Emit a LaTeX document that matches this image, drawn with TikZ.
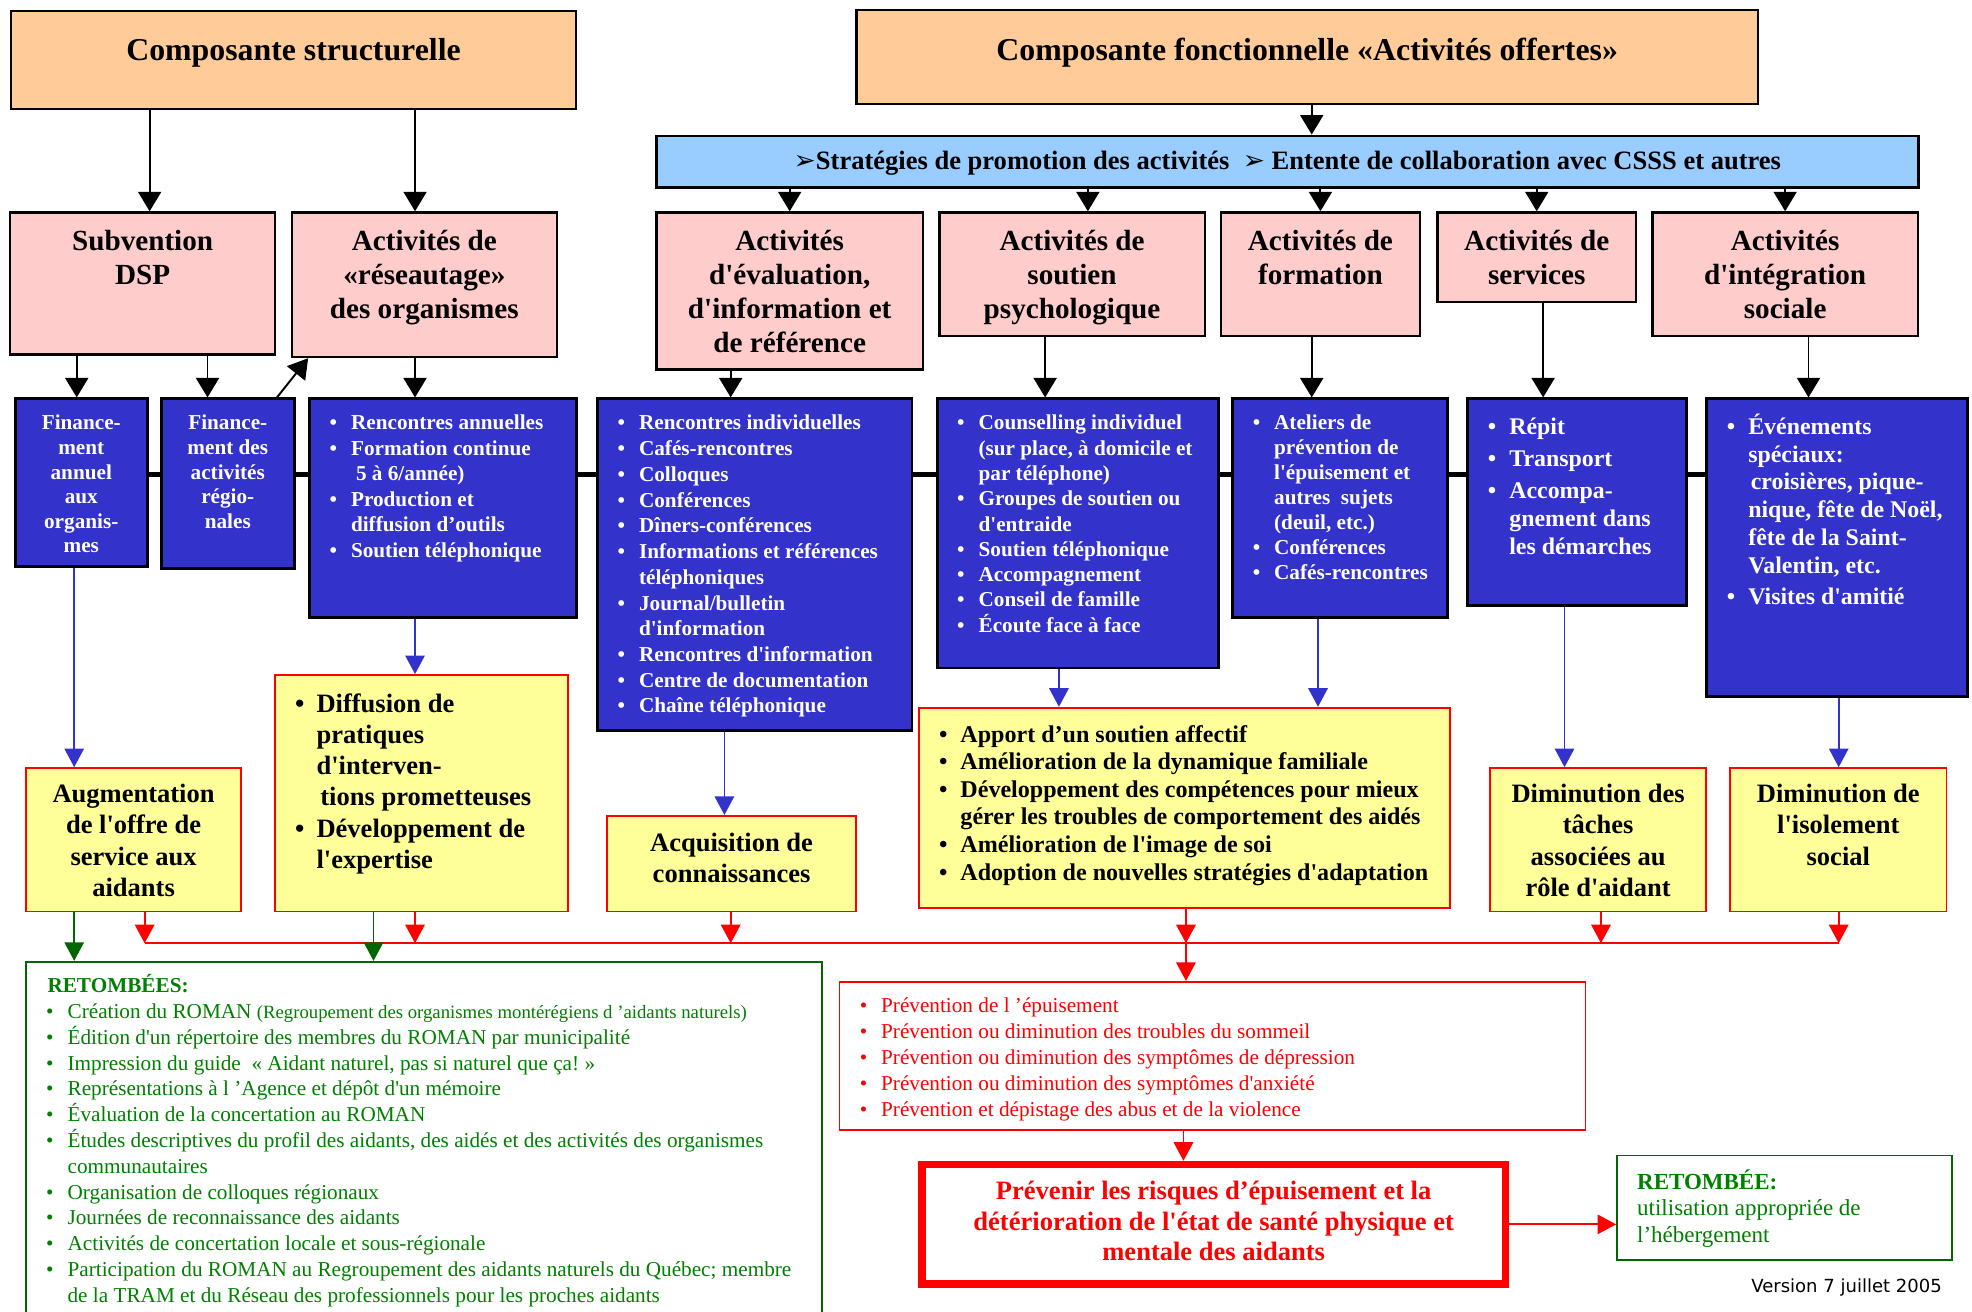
\documentclass[tikz,border=0pt]{standalone}
\usepackage{fontspec}
\setmainfont{Liberation Serif}[Ligatures=TeXOff]
\newfontfamily\dejavu{DejaVu Sans}
\usetikzlibrary{positioning,calc,arrows.meta,backgrounds}

\definecolor{orangeclair}{HTML}{FFCC99}
\definecolor{bleuciel}{HTML}{99CCFF}
\definecolor{rose}{HTML}{FFCCCC}
\definecolor{bleufonce}{HTML}{3333CC}
\definecolor{jaune}{HTML}{FFFF99}
\definecolor{rouge}{HTML}{FF0000}
\definecolor{vert}{HTML}{008000}
\definecolor{vertfonce}{HTML}{006600}

\newdimen\pxu
\pxu=0.025cm
\newcommand{\cadre}[4]{\parbox[c][#2\pxu][t]{#1\pxu}{\vspace*{#3\pxu}#4}}
\newcommand{\puce}[1]{\hangindent=33\pxu\hangafter=1\noindent\makebox[33\pxu][l]{\hspace*{16\pxu}\textbullet}#1\par}
\newcommand{\taille}[2]{\fontsize{#1}{#2}\selectfont}
\newcommand{\gauche}{\rightskip=0pt plus 1fil\relax}

\begin{document}
\begin{tikzpicture}[x=0.025cm, y=-0.025cm,
    boite/.style={draw, inner sep=0pt, anchor=north west, line width=1.3pt},
    titre/.style={boite, fill=orangeclair},
    bandeau/.style={boite, fill=bleuciel, line width=1.6pt},
    activite/.style={boite, fill=rose},
    moyen/.style={boite, fill=bleufonce, text=white, line width=1.6pt},
    effet/.style={boite, draw=rouge, fill=jaune, line width=1pt},
    fn/.style={-{Triangle[length=11pt,width=13pt]}, line width=1.1pt},
    fb/.style={-{Triangle[length=10.5pt,width=11pt]}, draw=bleufonce, line width=0.9pt},
    fr/.style={-{Triangle[length=10.5pt,width=11pt]}, draw=rouge, line width=1pt},
    fv/.style={-{Triangle[length=10.5pt,width=11pt]}, draw=vertfonce, line width=1pt},
    liaison/.style={line width=2.9pt}]
  \useasboundingbox (0,0) rectangle (1568,1043);
  \clip (0,0) rectangle (1568,1043);

  \node[titre] (struct) at (8,8) {\cadre{449}{78}{22}{\taille{18}{21}\bfseries\centering Composante structurelle\par}};
  \node[titre] (fonct) at (680,7) {\cadre{717}{75}{22}{\taille{18}{21}\bfseries\centering Composante fonctionnelle «Activités offertes»\par}};
  \node[bandeau] (strat) at (521,107) {\cadre{1003}{41}{12}{\taille{15}{18}\bfseries\centering{\dejavu ➢}Stratégies de promotion des activités\ \ {\dejavu ➢} Entente de collaboration avec CSSS et autres\par}};

  \node[activite] (subv) at (7,168) {\cadre{211}{113}{14}{\taille{16.5}{19.2}\bfseries\centering Subvention\\DSP\par}};
  \node[activite] (reseau) at (231,168) {\cadre{211}{115}{14}{\taille{16.5}{19.2}\bfseries\centering Activités de\\«réseautage»\\des organismes\par}};
  \node[activite] (eval) at (521,168) {\cadre{212}{125}{14}{\taille{16.5}{19.2}\bfseries\centering Activités\\d'évaluation,\\d'information et\\de référence\par}};
  \node[activite] (soutien) at (746,168) {\cadre{211}{98}{14}{\taille{16.5}{19.2}\bfseries\centering Activités de\\soutien\\psychologique\par}};
  \node[activite] (formation) at (970,168) {\cadre{158}{98}{14}{\taille{16.5}{19.2}\bfseries\centering Activités de\\formation\par}};
  \node[activite] (services) at (1142,168) {\cadre{158}{71}{14}{\taille{16.5}{19.2}\bfseries\centering Activités de\\services\par}};
  \node[activite] (integ) at (1313,168) {\cadre{211}{98}{14}{\taille{16.5}{19.2}\bfseries\centering Activités\\d'intégration\\sociale\par}};

  \node[moyen] (fin1) at (11,316) {\cadre{105}{133}{13}{\taille{12}{13.9}\bfseries\centering Finance-\\ment\\annuel\\aux\\organis-\\mes\par}};
  \node[moyen] (fin2) at (127,316) {\cadre{106}{135}{13}{\taille{12}{13.9}\bfseries\centering Finance-\\ment des\\activités\\régio-\\nales\par}};
  \node[moyen] (rencA) at (245,316) {\cadre{212}{174}{13}{\taille{12}{14.4}\bfseries\gauche
    \puce{Rencontres annuelles}
    \puce{Formation continue\\\hspace*{4\pxu}5 à 6/année)}
    \puce{Production et\\diffusion d’outils}
    \puce{Soutien téléphonique}}};
  \node[moyen] (rencI) at (474,316) {\cadre{250}{264}{13}{\taille{12}{14.55}\bfseries\gauche
    \puce{Rencontres individuelles}
    \puce{Cafés-rencontres}
    \puce{Colloques}
    \puce{Conférences}
    \puce{Dîners-conférences}
    \puce{Informations et références\\téléphoniques}
    \puce{Journal/bulletin\\d'information}
    \puce{Rencontres d'information}
    \puce{Centre de documentation}
    \puce{Chaîne téléphonique}}};
  \node[moyen] (couns) at (744,316) {\cadre{224}{214}{13}{\taille{12}{14.3}\bfseries\gauche
    \puce{Counselling individuel\\(sur place, à domicile et\\par téléphone)}
    \puce{Groupes de soutien ou\\d'entraide}
    \puce{Soutien téléphonique}
    \puce{Accompagnement}
    \puce{Conseil de famille}
    \puce{Écoute face à face}}};
  \node[moyen] (ateliers) at (979,316) {\cadre{171}{174}{13}{\taille{12}{14.1}\bfseries\gauche
    \puce{Ateliers de\\prévention de\\l'épuisement et\\autres \ sujets\\(deuil, etc.)}
    \puce{Conférences}
    \puce{Cafés-rencontres}}};
  \node[moyen] (repit) at (1166,316) {\cadre{174}{164}{12}{\taille{13.5}{16}\bfseries\gauche\parskip=2.1pt
    \puce{Répit}
    \puce{Transport}
    \puce{Accompa-\\gnement dans\\les démarches}}};
  \node[moyen] (evenem) at (1356,316) {\cadre{207}{237}{9}{\taille{13.5}{15.7}\bfseries\gauche\parskip=2.1pt
    \puce{Événements\\spéciaux:\\\hspace*{2\pxu}croisières, pique-\\nique, fête de Noël,\\fête de la Saint-\\Valentin, etc.}
    \puce{Visites d'amitié}}};

  \node[effet] (augm) at (20,610) {\cadre{171}{114}{13}{\taille{15}{17.6}\bfseries\centering Augmentation\\de l'offre de\\service aux\\aidants\par}};
  \node[effet] (diffu) at (218,536) {\cadre{233}{188}{15}{\taille{15}{17.6}\bfseries\gauche
    \puce{Diffusion de\\pratiques\\d'interven-\\\hspace*{3\pxu}tions prometteuses}
    \puce{Développement de\\l'expertise}}};
  \node[effet] (acquis) at (482,648) {\cadre{198}{76}{14}{\taille{15}{17.6}\bfseries\centering Acquisition de\\connaissances\par}};
  \node[effet] (apport) at (730,562) {\cadre{422}{159}{14}{\taille{13.6}{15.6}\bfseries\gauche
    \puce{Apport d’un soutien affectif}
    \puce{Amélioration de la dynamique familiale}
    \puce{Développement des compétences pour mieux\\gérer les troubles de comportement des aidés}
    \puce{Amélioration de l'image de soi}
    \puce{Adoption de nouvelles stratégies d'adaptation}}};
  \node[effet] (dimT) at (1184,610) {\cadre{172}{114}{13}{\taille{15}{17.6}\bfseries\centering Diminution des\\tâches\\associées au\\rôle d'aidant\par}};
  \node[effet] (dimI) at (1375,610) {\cadre{172}{114}{13}{\taille{15}{17.6}\bfseries\centering Diminution de\\l'isolement\\social\par}};

  \node[boite, draw=vertfonce, line width=1.1pt, text=vert] (retombees) at (20,764) {\cadre{633}{300}{10}{\taille{12}{14.6}\gauche
    \noindent\hspace*{17\pxu}{\bfseries RETOMBÉES:}\par
    \puce{Création du ROMAN {\taille{10.6}{14.6}(Regroupement des organismes montérégiens d ’aidants naturels)}}
    \puce{Édition d'un répertoire des membres du ROMAN par municipalité}
    \puce{Impression du guide \ « Aidant naturel, pas si naturel que ça!~»}
    \puce{Représentations à l ’Agence et dépôt d'un mémoire}
    \puce{Évaluation de la concertation au ROMAN}
    \puce{Études descriptives du profil des aidants, des aidés et des activités des organismes\\communautaires}
    \puce{Organisation de colloques régionaux}
    \puce{Journées de reconnaissance des aidants}
    \puce{Activités de concertation locale et sous-régionale}
    \puce{Participation du ROMAN au Regroupement des aidants naturels du Québec; membre\\de la TRAM et du Réseau des professionnels pour les proches aidants}}};
  \node[boite, draw=rouge, line width=0.9pt, text=rouge] (prev) at (667,780) {\cadre{593}{118}{13}{\taille{12}{14.7}\gauche
    \puce{Prévention de l ’épuisement}
    \puce{Prévention ou diminution des troubles du sommeil}
    \puce{Prévention ou diminution des symptômes de dépression}
    \puce{Prévention ou diminution des symptômes d'anxiété}
    \puce{Prévention et dépistage des abus et de la violence}}};
  \node[boite, draw=rouge, line width=4.3pt, text=rouge] (prevenir) at (730,923) {\cadre{464}{95}{13}{\taille{15}{17.4}\bfseries\centering Prévenir les risques d’épuisement et la\\détérioration de l'état de santé physique et\\mentale des aidants\par}};
  \node[boite, draw=vertfonce, line width=1.1pt, text=vert] (retombee) at (1285,918) {\cadre{266}{83}{11}{\taille{13}{15}\gauche\leftskip=16\pxu
    {\bfseries RETOMBÉE:}\\utilisation appropriée de\\l’hébergement\par}};
  \node[anchor=east] (version) at (1549,1024) {\dejavu\taille{10.2}{12}Version 7 juillet 2005};

  \begin{scope}[on background layer]
    \draw[liaison] (fin1.east |- 0,377) -- (evenem.west |- 0,377);
  \end{scope}

  \draw[fn] (struct.south -| 119,0) -- (subv.north -| 119,0);
  \draw[fn] (struct.south -| 330,0) -- (reseau.north -| 330,0);
  \draw[fn] (fonct.south -| 1043,0) -- (strat.north -| 1043,0);
  \draw[fn] (strat.south -| eval.north) -- (eval.north);
  \draw[fn] (strat.south -| 865,0) -- (soutien.north -| 865,0);
  \draw[fn] (strat.south -| formation.north) -- (formation.north);
  \draw[fn] (strat.south -| services.north) -- (services.north);
  \draw[fn] (strat.south -| integ.north) -- (integ.north);
  \draw[fn] (subv.south -| 61,0) -- (fin1.north -| 61,0);
  \draw[fn] (subv.south -| 165,0) -- (fin2.north -| 165,0);
  \draw[fn] ($(fin2.north east)+(-15,0)$) -- ($(reseau.south west)+(14,0)$);
  \draw[fn] (reseau.south -| 330,0) -- (rencA.north -| 330,0);
  \draw[fn] (eval.south -| 581,0) -- (rencI.north -| 581,0);
  \draw[fn] (soutien.south -| 831,0) -- (couns.north -| 831,0);
  \draw[fn] (formation.south -| 1043,0) -- (ateliers.north -| 1043,0);
  \draw[fn] (services.south -| 1227,0) -- (repit.north -| 1227,0);
  \draw[fn] (integ.south -| 1438,0) -- (evenem.north -| 1438,0);

  \draw[fb] (fin1.south -| 59,0) -- (augm.north -| 59,0);
  \draw[fb] (rencA.south -| 330,0) -- (diffu.north -| 330,0);
  \draw[fb] (rencI.south -| 576,0) -- (acquis.north -| 576,0);
  \draw[fb] (couns.south -| 842,0) -- (apport.north -| 842,0);
  \draw[fb] (ateliers.south -| 1048,0) -- (apport.north -| 1048,0);
  \draw[fb] (repit.south -| 1244,0) -- (dimT.north -| 1244,0);
  \draw[fb] (evenem.south -| 1462,0) -- (dimI.north -| 1462,0);

  \coordinate (bus) at (0,750);
  \draw[rouge, line width=1pt] (bus -| 115,0) -- (bus -| 1462,0);
  \draw[fr] (augm.south -| 115,0) -- (bus -| 115,0);
  \draw[fr] (diffu.south -| 330,0) -- (bus -| 330,0);
  \draw[fr] (acquis.south -| 581,0) -- (bus -| 581,0);
  \draw[fr] (apport.south -| 943,0) -- (bus -| 943,0);
  \draw[fr] (dimT.south -| 1273,0) -- (bus -| 1273,0);
  \draw[fr] (dimI.south -| 1462,0) -- (bus -| 1462,0);
  \draw[fr] (bus -| 943,0) -- (prev.north -| 943,0);
  \draw[fr] (prev.south -| 941,0) -- (prevenir.north -| 941,0);
  \draw[fr] (prevenir.east) -- (prevenir.east -| retombee.west);

  \draw[fv] (augm.south -| 59,0) -- (retombees.north -| 59,0);
  \draw[fv] (diffu.south -| 297,0) -- (retombees.north -| 297,0);
\end{tikzpicture}
\end{document}
